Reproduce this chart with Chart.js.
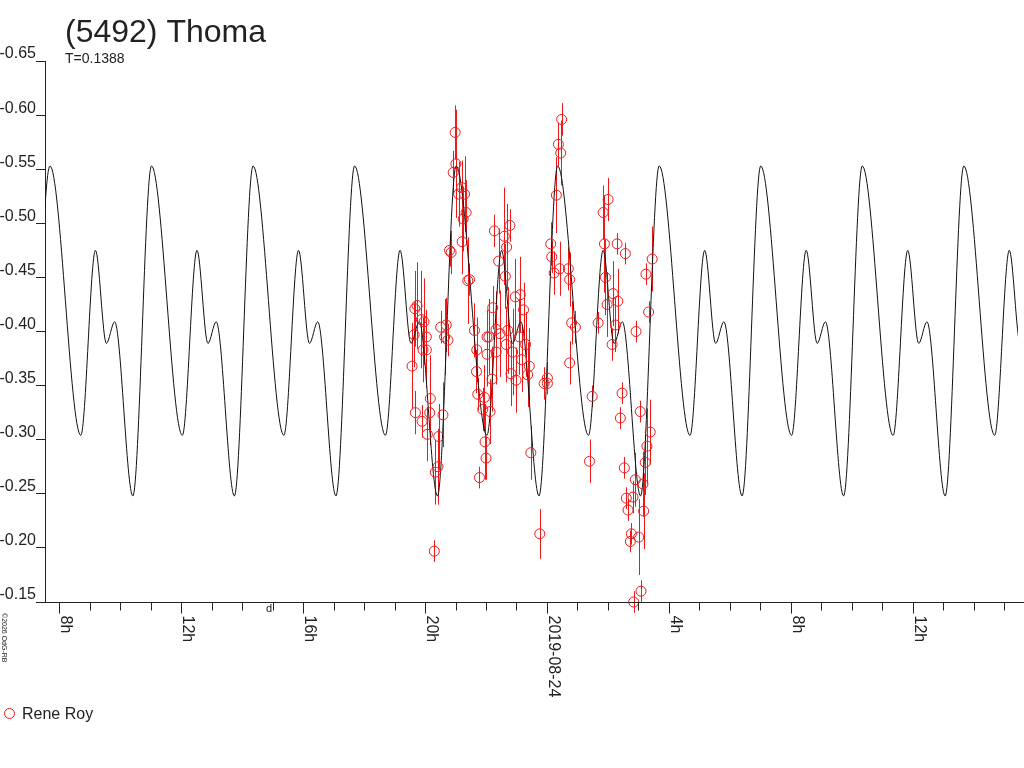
<!DOCTYPE html>
<html>
<head>
<meta charset="utf-8">
<title>(5492) Thoma</title>
<script src="https://cdn.jsdelivr.net/npm/chart.js@4/dist/chart.umd.min.js"></script>
<style>
  html, body { margin: 0; padding: 0; background: #fff; }
  #wrap { width: 1024px; height: 768px; }
</style>
</head>
<body>
<div id="wrap"><canvas id="lc" width="1024" height="768"></canvas></div>
<script>
// hours counted from 2019-08-23 00:00
const modelHours = [7.084, 7.696, 8.708, 9.188, 9.547, 9.818, 10.415, 11.027, 12.039, 12.519, 12.878, 13.149, 13.746,
  14.358, 15.370, 15.850, 16.209, 16.480, 17.077, 17.689, 18.701, 19.181, 19.540, 19.811, 20.408,
  21.020, 22.032, 22.512, 22.871, 23.142, 23.739, 24.351, 25.363, 25.843, 26.202, 26.473, 27.070,
  27.682, 28.694, 29.174, 29.533, 29.804, 30.401, 31.013, 32.025, 32.505, 32.864, 33.135, 33.732,
  34.344, 35.356, 35.836, 36.195, 36.466, 37.063, 37.675, 38.687, 39.167, 39.526, 39.797];
const modelMags = [-0.248, -0.553, -0.304, -0.475, -0.389, -0.409, -0.248, -0.553, -0.304, -0.475, -0.389, -0.409, -0.248,
  -0.553, -0.304, -0.475, -0.389, -0.409, -0.248, -0.553, -0.304, -0.475, -0.389, -0.409, -0.248,
  -0.553, -0.304, -0.475, -0.389, -0.409, -0.248, -0.553, -0.304, -0.475, -0.389, -0.409, -0.248,
  -0.553, -0.304, -0.475, -0.389, -0.409, -0.248, -0.553, -0.304, -0.475, -0.389, -0.409, -0.248,
  -0.553, -0.304, -0.475, -0.389, -0.409, -0.248, -0.553, -0.304, -0.475, -0.389, -0.409];

const royHours = [19.576, 19.641, 19.664, 19.684, 19.739, 19.879, 19.903, 19.935, 19.967, 20.043,
  20.043, 20.076, 20.154, 20.173, 20.304, 20.337, 20.425, 20.448, 20.513, 20.588,
  20.643, 20.696, 20.751, 20.804, 20.856, 20.924, 20.989, 21.012, 21.100, 21.200,
  21.218, 21.250, 21.296, 21.348, 21.403, 21.459, 21.622, 21.688, 21.697, 21.730,
  21.786, 21.894, 21.949, 21.969, 22.001, 22.034, 22.034, 22.093, 22.132, 22.197,
  22.220, 22.275, 22.331, 22.331, 22.415, 22.462, 22.601, 22.634, 22.662, 22.676,
  22.713, 22.784, 22.821, 22.873, 22.961, 22.984, 23.095, 23.124, 23.167, 23.232,
  23.298, 23.366, 23.421, 23.471, 23.765, 23.907, 24.015, 24.015, 24.124, 24.157,
  24.235, 24.310, 24.375, 24.418, 24.451, 24.483, 24.702, 24.745, 24.745, 24.810,
  24.934, 25.396, 25.484, 25.680, 25.843, 25.886, 25.919, 25.974, 26.006, 26.138,
  26.170, 26.246, 26.301, 26.324, 26.408, 26.464, 26.539, 26.572, 26.604, 26.660,
  26.735, 26.768, 26.823, 26.846, 26.898, 26.921, 27.009, 27.061, 27.085, 27.149,
  27.172, 27.224, 27.247, 27.280, 27.335, 27.387, 27.452];
const royMags = [-0.368, -0.397, -0.421, -0.325, -0.424, -0.411, -0.317, -0.383, -0.409, -0.395,
  -0.383, -0.305, -0.325, -0.338, -0.197, -0.270, -0.275, -0.303, -0.404, -0.323,
  -0.395, -0.406, -0.392, -0.475, -0.473, -0.547, -0.584, -0.555, -0.527, -0.533,
  -0.483, -0.504, -0.527, -0.510, -0.447, -0.448, -0.401, -0.363, -0.383, -0.342,
  -0.265, -0.328, -0.339, -0.298, -0.283, -0.395, -0.379, -0.395, -0.326, -0.356,
  -0.422, -0.493, -0.402, -0.381, -0.465, -0.398, -0.488, -0.451, -0.388, -0.478,
  -0.401, -0.498, -0.361, -0.381, -0.432, -0.355, -0.395, -0.434, -0.374, -0.420,
  -0.388, -0.360, -0.368, -0.288, -0.213, -0.352, -0.357, -0.352, -0.481, -0.469,
  -0.454, -0.526, -0.573, -0.458, -0.565, -0.596, -0.458, -0.448, -0.371, -0.408,
  -0.404, -0.280, -0.340, -0.408, -0.510, -0.481, -0.450, -0.425, -0.522, -0.388,
  -0.435, -0.406, -0.481, -0.428, -0.320, -0.343, -0.274, -0.472, -0.246, -0.235,
  -0.206, -0.213, -0.247, -0.150, -0.263, -0.400, -0.210, -0.326, -0.160, -0.259,
  -0.234, -0.279, -0.453, -0.294, -0.418, -0.307, -0.467];
const royErrors = [0.040, 0.030, 0.035, 0.020, 0.040, 0.045, 0.015, 0.030, 0.040, 0.025,
  0.035, 0.025, 0.030, 0.040, 0.010, 0.030, 0.035, 0.030, 0.015, 0.030,
  0.035, 0.025, 0.015, 0.015, 0.020, 0.020, 0.025, 0.050, 0.030, 0.025,
  0.030, 0.030, 0.035, 0.030, 0.040, 0.015, 0.025, 0.020, 0.030, 0.015,
  0.010, 0.020, 0.030, 0.035, 0.020, 0.025, 0.030, 0.035, 0.030, 0.030,
  0.020, 0.015, 0.035, 0.030, 0.030, 0.040, 0.045, 0.030, 0.035, 0.040,
  0.040, 0.015, 0.030, 0.040, 0.035, 0.030, 0.035, 0.035, 0.030, 0.025,
  0.030, 0.030, 0.035, 0.025, 0.023, 0.015, 0.015, 0.010, 0.020, 0.015,
  0.020, 0.035, 0.020, 0.025, 0.030, 0.015, 0.020, 0.025, 0.020, 0.020,
  0.015, 0.020, 0.010, 0.010, 0.025, 0.045, 0.035, 0.030, 0.020, 0.015,
  0.030, 0.025, 0.010, 0.030, 0.010, 0.010, 0.010, 0.010, 0.010, 0.010,
  0.010, 0.010, 0.015, 0.010, 0.025, 0.010, 0.035, 0.010, 0.010, 0.030,
  0.035, 0.030, 0.010, 0.035, 0.010, 0.030, 0.030];

const yTickValues = [-0.65, -0.60, -0.55, -0.50, -0.45, -0.40, -0.35, -0.30, -0.25, -0.20, -0.15];
const hourTicks = [8, 9, 10, 11, 12, 13, 14, 15, 16, 17, 18, 19, 20, 21, 22, 23, 24,
  25, 26, 27, 28, 29, 30, 31, 32, 33, 34, 35, 36, 37, 38, 39];
const labelHours = [8, 12, 16, 20, 24, 28, 32, 36];
const labelTexts = ['8h', '12h', '16h', '20h', '2019-08-24', '4h', '8h', '12h'];

const FONT = '"Liberation Sans", Arial, sans-serif';
const INK = '#222';
const RED = 'rgb(240,24,24)';

// vertical error bars, drawn under the curve and the circles
const errorBars = {
  id: 'errorBars',
  beforeDatasetsDraw(chart) {
    const ctx = chart.ctx, y = chart.scales.y;
    const meta = chart.getDatasetMeta(0);
    ctx.save();
    ctx.strokeStyle = RED;
    ctx.lineWidth = 1;
    meta.data.forEach((pt, i) => {
      const x = Math.round(pt.x) + 0.5;
      ctx.beginPath();
      ctx.moveTo(x, y.getPixelForValue(royMags[i] - royErrors[i]));
      ctx.lineTo(x, y.getPixelForValue(royMags[i] + royErrors[i]));
      ctx.stroke();
    });
    ctx.restore();
  }
};

// titles, time axis ticks/labels, legend
const decorations = {
  id: 'decorations',
  afterDraw(chart) {
    const ctx = chart.ctx, xs = chart.scales.x, area = chart.chartArea;
    const b = Math.round(area.bottom) + 0.5;
    ctx.save();
    ctx.fillStyle = INK;
    ctx.font = '32px ' + FONT;
    ctx.textBaseline = 'alphabetic';
    ctx.fillText('(5492) Thoma', 65, 42);
    ctx.font = '14px ' + FONT;
    ctx.fillText('T=0.1388', 65, 63);

    ctx.strokeStyle = INK;
    ctx.lineWidth = 1;
    ctx.beginPath();
    ctx.moveTo(36, b);
    ctx.lineTo(1024, b);
    hourTicks.forEach(h => {
      const px = Math.round(xs.getPixelForValue(h)) + 0.5;
      const len = labelHours.includes(h) ? 11 : 8;
      ctx.moveTo(px, b);
      ctx.lineTo(px, b + len);
    });
    ctx.stroke();

    ctx.font = '16px ' + FONT;
    labelHours.forEach((h, i) => {
      const px = xs.getPixelForValue(h);
      ctx.save();
      ctx.translate(px + 2, b + 13);
      ctx.rotate(Math.PI / 2);
      ctx.textAlign = 'left';
      ctx.textBaseline = 'alphabetic';
      ctx.fillText(labelTexts[i], 0, 0);
      ctx.restore();
    });

    ctx.font = '11px ' + FONT;
    ctx.textAlign = 'center';
    ctx.textBaseline = 'top';
    ctx.fillText('d', xs.getPixelForValue(14.88), b + 1);

    ctx.save();
    ctx.translate(1.5, 613);
    ctx.rotate(Math.PI / 2);
    ctx.font = '7px ' + FONT;
    ctx.textAlign = 'left';
    ctx.textBaseline = 'alphabetic';
    ctx.fillText('\u00a92026 OdG-RB', 0, 0);
    ctx.restore();

    const ds = chart.data.datasets[0];
    ctx.strokeStyle = ds.borderColor;
    ctx.beginPath();
    ctx.arc(9.5, 713.5, 5, 0, Math.PI * 2);
    ctx.stroke();
    ctx.fillStyle = INK;
    ctx.font = '16px ' + FONT;
    ctx.textAlign = 'left';
    ctx.textBaseline = 'alphabetic';
    ctx.fillText(ds.label, 22, 719);
    ctx.restore();
  }
};

new Chart(document.getElementById('lc'), {
  type: 'scatter',
  data: {
    datasets: [
      {
        label: 'Rene Roy',
        data: royHours.map((h, i) => ({ x: h, y: royMags[i] })),
        pointStyle: 'circle',
        pointRadius: 5,
        borderColor: RED,
        backgroundColor: 'rgba(0,0,0,0)',
        borderWidth: 1,
        clip: false
      },
      {
        label: 'model',
        data: modelHours.map((h, i) => ({ x: h, y: modelMags[i] })),
        showLine: true,
        cubicInterpolationMode: 'monotone',
        borderColor: '#111',
        borderWidth: 1,
        pointRadius: 0
      }
    ]
  },
  options: {
    responsive: false,
    animation: false,
    devicePixelRatio: 1,
    layout: { padding: { top: 61, right: 1, left: 0, bottom: 0 } },
    plugins: { legend: { display: false }, tooltip: { enabled: false } },
    scales: {
      x: {
        type: 'linear',
        min: 7.533,
        max: 39.453,
        ticks: { display: false },
        grid: { display: false },
        border: { display: false },
        afterFit: s => { s.height = 166; }
      },
      y: {
        type: 'linear',
        reverse: true,
        min: -0.65,
        max: -0.15,
        afterBuildTicks: s => { s.ticks = yTickValues.map(v => ({ value: v })); },
        ticks: {
          font: { family: FONT, size: 16 },
          color: INK,
          padding: 0,
          labelOffset: -7,
          callback: v => v.toFixed(2)
        },
        grid: { drawOnChartArea: false, drawTicks: true, tickLength: 9, color: INK },
        border: { color: INK },
        afterFit: s => { s.width = 45; }
      }
    }
  },
  plugins: [errorBars, decorations]
});
</script>
</body>
</html>
